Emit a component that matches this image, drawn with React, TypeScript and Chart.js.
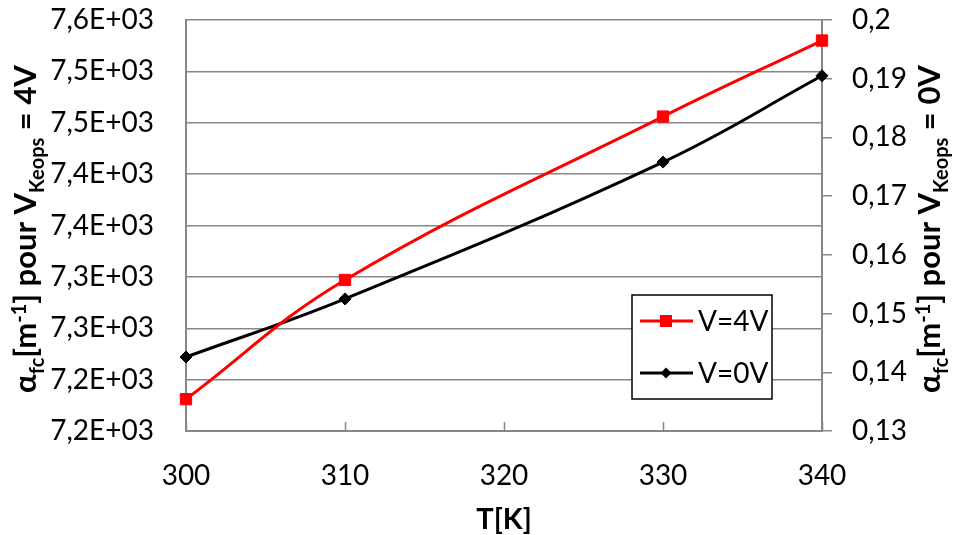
import React, { useEffect, useRef } from 'react';
import { Chart, registerables } from 'chart.js';

Chart.register(...registerables);

// ---- data ----
const temperatures = [300, 310, 330, 340];
const alpha4V = [7181, 7297, 7456, 7530];
const alpha0V = [0.1426, 0.1525, 0.1758, 0.1905];
const seriesLabels = ['V=4V', 'V=0V'];

const xTickValues = [300, 310, 320, 330, 340];
const leftTickValues = [7150, 7200, 7250, 7300, 7350, 7400, 7450, 7500, 7550];
const leftTickLabels = ['7,2E+03', '7,2E+03', '7,3E+03', '7,3E+03', '7,4E+03', '7,4E+03', '7,5E+03', '7,5E+03', '7,6E+03'];
const rightTickValues = [0.13, 0.14, 0.15, 0.16, 0.17, 0.18, 0.19, 0.2];
const rightTickLabels = ['0,13', '0,14', '0,15', '0,16', '0,17', '0,18', '0,19', '0,2'];

type Seg = { text: string; kind: 'n' | 'sub' | 'sup' };
const xTitle = 'T[K]';
const leftTitle: Seg[] = [
  { text: 'α', kind: 'n' },
  { text: 'fc', kind: 'sub' },
  { text: '[m', kind: 'n' },
  { text: '-1', kind: 'sup' },
  { text: '] pour V', kind: 'n' },
  { text: 'Keops', kind: 'sub' },
  { text: ' = 4V', kind: 'n' },
];
const rightTitle: Seg[] = [
  { text: 'α', kind: 'n' },
  { text: 'fc', kind: 'sub' },
  { text: '[m', kind: 'n' },
  { text: '-1', kind: 'sup' },
  { text: '] pour V', kind: 'n' },
  { text: 'Keops', kind: 'sub' },
  { text: ' = 0V', kind: 'n' },
];

const FAMILY = 'Lato, "Open Sans", sans-serif';
const GRID = '#878787';
const RED = '#ff0000';
const BLACK = '#000000';

function drawRich(ctx: CanvasRenderingContext2D, segs: Seg[], size: number) {
  const fontFor = (k: string) => `bold ${k === 'n' ? size : Math.round(size * 0.65)}px ${FAMILY}`;
  let total = 0;
  const widths = segs.map((s) => {
    ctx.font = fontFor(s.kind);
    const w = ctx.measureText(s.text).width;
    total += w;
    return w;
  });
  let cx = -total / 2;
  ctx.textBaseline = 'alphabetic';
  ctx.textAlign = 'left';
  segs.forEach((s, i) => {
    ctx.font = fontFor(s.kind);
    const dy = s.kind === 'sub' ? size * 0.25 : s.kind === 'sup' ? -size * 0.33 : 0;
    ctx.fillText(s.text, cx, dy);
    cx += widths[i];
  });
}

const decorPlugin = {
  id: 'decor',
  afterDraw(chart: any) {
    const ctx: CanvasRenderingContext2D = chart.ctx;
    const area = chart.chartArea;
    const xs = chart.scales.x;
    ctx.save();
    // inward ticks on x axis
    ctx.strokeStyle = GRID;
    ctx.lineWidth = 1.5;
    xTickValues.forEach((v) => {
      const px = Math.round(xs.getPixelForValue(v)) + 0.5;
      ctx.beginPath();
      ctx.moveTo(px, area.bottom);
      ctx.lineTo(px, area.bottom - 9);
      ctx.stroke();
    });

    // axis titles
    ctx.fillStyle = '#000';
    const midY = 229;
    ctx.save();
    ctx.translate(36, midY);
    ctx.rotate(-Math.PI / 2);
    drawRich(ctx, leftTitle, 31);
    ctx.restore();

    ctx.save();
    ctx.translate(940, midY);
    ctx.rotate(-Math.PI / 2);
    drawRich(ctx, rightTitle, 31);
    ctx.restore();

    ctx.font = `bold 29px ${FAMILY}`;
    ctx.textAlign = 'center';
    ctx.textBaseline = 'alphabetic';
    ctx.fillText(xTitle, (area.left + area.right) / 2, 529);

    // legend box
    const lx = 632, ly = 295, lw = 140, lh = 104;
    ctx.fillStyle = '#ffffff';
    ctx.fillRect(lx, ly, lw, lh);
    ctx.strokeStyle = '#000';
    ctx.lineWidth = 1.5;
    ctx.strokeRect(lx, ly, lw, lh);
    const rows = [
      { y: 321, color: RED, marker: 'square', label: seriesLabels[0] },
      { y: 373, color: BLACK, marker: 'diamond', label: seriesLabels[1] },
    ];
    rows.forEach((r) => {
      ctx.strokeStyle = r.color;
      ctx.fillStyle = r.color;
      ctx.lineWidth = 3;
      ctx.beginPath();
      ctx.moveTo(640, r.y);
      ctx.lineTo(693, r.y);
      ctx.stroke();
      const mx = 666;
      if (r.marker === 'square') {
        ctx.fillRect(mx - 6, r.y - 6, 12, 12);
      } else {
        ctx.beginPath();
        ctx.moveTo(mx - 5.5, r.y);
        ctx.lineTo(mx, r.y - 5.5);
        ctx.lineTo(mx + 5.5, r.y);
        ctx.lineTo(mx, r.y + 5.5);
        ctx.closePath();
        ctx.fill();
      }
      ctx.fillStyle = '#000';
      ctx.font = `28px ${FAMILY}`;
      ctx.textAlign = 'left';
      ctx.textBaseline = 'middle';
      ctx.fillText(r.label, 698, r.y + 1);
    });
    ctx.restore();
  },
};

export default function App() {
  const ref = useRef<HTMLCanvasElement | null>(null);
  useEffect(() => {
    if (!ref.current) return;
    const chart = new Chart(ref.current, {
      type: 'line',
      data: {
        datasets: [
          {
            label: seriesLabels[0],
            data: temperatures.map((t, i) => ({ x: t, y: alpha4V[i] })),
            yAxisID: 'y',
            borderColor: RED,
            backgroundColor: RED,
            borderWidth: 3,
            pointStyle: 'rect',
            pointRadius: 8,
            pointBorderWidth: 1,
            pointBorderColor: RED,
            pointBackgroundColor: RED,
            tension: 0.4,
            clip: false as any,
          },
          {
            label: seriesLabels[1],
            data: temperatures.map((t, i) => ({ x: t, y: alpha0V[i] })),
            yAxisID: 'y1',
            borderColor: BLACK,
            backgroundColor: BLACK,
            borderWidth: 3,
            pointStyle: 'rectRot',
            pointRadius: 6,
            pointBorderWidth: 1,
            pointBorderColor: BLACK,
            pointBackgroundColor: BLACK,
            tension: 0.4,
            clip: false as any,
          },
        ],
      },
      options: {
        responsive: false,
        animation: false,
        layout: { padding: { top: 20, left: 0, right: 0, bottom: 0 } },
        plugins: {
          legend: { display: false },
          tooltip: { enabled: false },
        },
        scales: {
          x: {
            type: 'linear',
            min: 300,
            max: 340,
            afterBuildTicks: (s: any) => {
              s.ticks = xTickValues.map((v) => ({ value: v }));
            },
            afterFit: (s: any) => {
              s.height = 104;
              s.paddingLeft = 0;
              s.paddingRight = 0;
            },
            grid: { display: false, drawTicks: false },
            border: { display: true, color: GRID, width: 2 },
            ticks: {
              font: { family: FAMILY, size: 28 },
              color: '#000',
              padding: 28,
              maxRotation: 0,
              callback: (v: any) => String(v),
            },
          },
          y: {
            type: 'linear',
            position: 'left',
            min: 7150,
            max: 7550,
            afterBuildTicks: (s: any) => {
              s.ticks = leftTickValues.map((v) => ({ value: v }));
            },
            afterFit: (s: any) => {
              s.width = 186;
              s.paddingTop = 0;
              s.paddingBottom = 0;
            },
            grid: { color: GRID, lineWidth: 1.5, drawTicks: false },
            border: { display: true, color: GRID, width: 2 },
            ticks: {
              font: { family: FAMILY, size: 28 },
              color: '#000',
              padding: 32,
              callback: (_v: any, i: number) => leftTickLabels[i],
            },
          },
          y1: {
            type: 'linear',
            position: 'right',
            min: 0.13,
            max: 0.2,
            afterBuildTicks: (s: any) => {
              s.ticks = rightTickValues.map((v) => ({ value: v }));
            },
            afterFit: (s: any) => {
              s.width = 131;
              s.paddingTop = 0;
              s.paddingBottom = 0;
            },
            grid: { drawOnChartArea: false, drawTicks: true, tickLength: 10, color: GRID, lineWidth: 1.5 },
            border: { display: true, color: GRID, width: 2 },
            ticks: {
              font: { family: FAMILY, size: 28 },
              color: '#000',
              padding: 20,
              callback: (_v: any, i: number) => rightTickLabels[i],
            },
          },
        },
      },
      plugins: [decorPlugin],
    });
    return () => chart.destroy();
  }, []);

  return (
    <div style={{ position: 'absolute', left: 0, top: 0, width: 953, height: 535, background: '#fff' }}>
      <canvas ref={ref} width={953} height={535} style={{ display: 'block' }} />
    </div>
  );
}
